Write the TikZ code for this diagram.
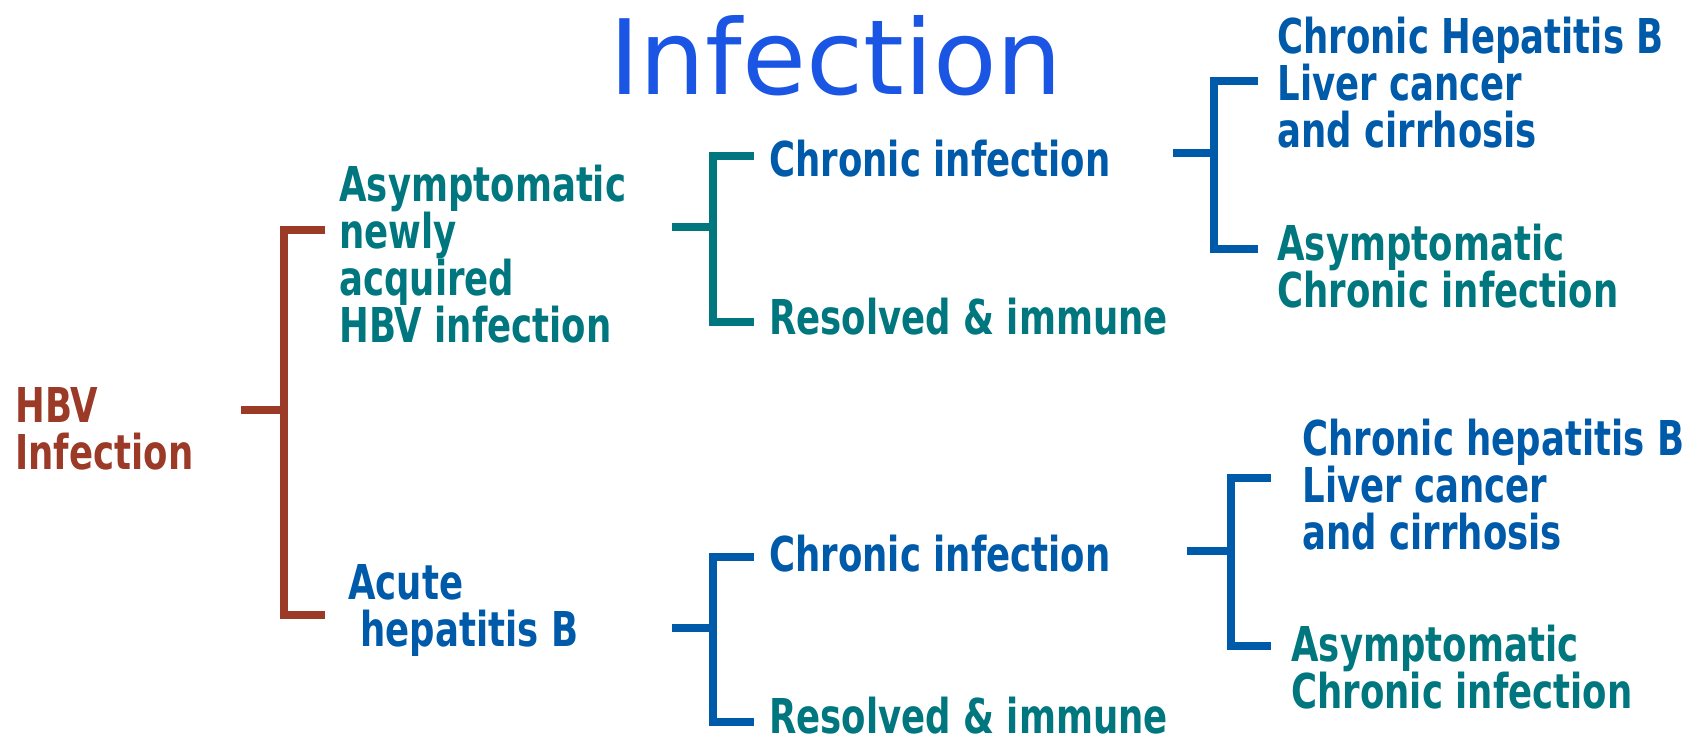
\documentclass[tikz,border=0pt]{standalone}
\usepackage{fontspec}
\usepackage{tikz}
\newfontfamily\lblfont{DejaVu Sans}[FakeStretch=0.74]
\newfontfamily\ttlfont{DejaVu Sans}
\definecolor{hbvbrown}{HTML}{9B3B27}
\definecolor{hbvteal}{HTML}{00777F}
\definecolor{hbvblue}{HTML}{005AAA}
\definecolor{ttlblue}{HTML}{1A55E3}

\begin{document}
\begin{tikzpicture}[x=0.5pt,y=-0.5pt,
        lbl/.style={inner sep=0pt,anchor=west,align=left,
            font=\lblfont\bfseries\fontsize{24}{23.5}\selectfont},
        brk/.style={line width=4pt}]
        \useasboundingbox (0,0) rectangle (1700,742);
        \node[ttlblue,inner sep=0pt,anchor=base,font=\ttlfont\fontsize{52}{60}\selectfont] (title) at (836,95) {Infection};
        
        \node[lbl,hbvbrown] (hbv) at (15,429) {HBV\\Infection};
        \node[lbl,hbvteal] (asym) at (339,254) {Asymptomatic\\newly\\acquired\\HBV infection};
        \node[lbl,hbvblue] (acute) at (348,610) {Acute\\\hspace*{6pt}hepatitis B};
        
        \node[lbl,hbvblue] (chr1) at (769,159) {Chronic infection};
        \node[lbl,hbvteal] (res1) at (769,317) {Resolved \& immune};
        \node[lbl,hbvblue] (chr2) at (769,554) {Chronic infection};
        \node[lbl,hbvteal] (res2) at (769,716) {Resolved \& immune};
        
        \node[lbl,hbvblue] (hepB1) at (1277,83) {Chronic Hepatitis B\\Liver cancer\\and cirrhosis};
        \node[lbl,hbvteal] (asyc1) at (1277,266) {Asymptomatic\\Chronic infection};
        \node[lbl,hbvblue] (hepB2) at (1302,485) {Chronic hepatitis B\\Liver cancer\\and cirrhosis};
        \node[lbl,hbvteal] (asyc2) at (1291,667) {Asymptomatic\\Chronic infection};
        
        % brackets
        \coordinate (hbvtop) at (325,230);
        \coordinate (hbvbot) at (325,615);
        \coordinate (hbvjoin) at (284,410);
        \draw[brk,hbvbrown] (hbvtop) -- ++(-41,0) |- (hbvbot) (hbvjoin) -- ++(-43,0);
        
        \coordinate (asymtop) at (754,156);
        \coordinate (asymbot) at (754,322);
        \coordinate (asymjoin) at (713,227);
        \draw[brk,hbvteal] (asymtop) -- ++(-41,0) |- (asymbot) (asymjoin) -- ++(-41,0);
        
        \coordinate (acutetop) at (754,557);
        \coordinate (acutebot) at (754,722);
        \coordinate (acutejoin) at (713,628);
        \draw[brk,hbvblue] (acutetop) -- ++(-41,0) |- (acutebot) (acutejoin) -- ++(-41,0);
        
        \coordinate (chr1top) at (1258,81);
        \coordinate (chr1bot) at (1258,249);
        \coordinate (chr1join) at (1214,153);
        \draw[brk,hbvblue] (chr1top) -- ++(-44,0) |- (chr1bot) (chr1join) -- ++(-41,0);
        
        \coordinate (chr2top) at (1271,478);
        \coordinate (chr2bot) at (1271,646);
        \coordinate (chr2join) at (1231,551);
        \draw[brk,hbvblue] (chr2top) -- ++(-40,0) |- (chr2bot) (chr2join) -- ++(-44,0);
    \end{tikzpicture}
\end{document}
